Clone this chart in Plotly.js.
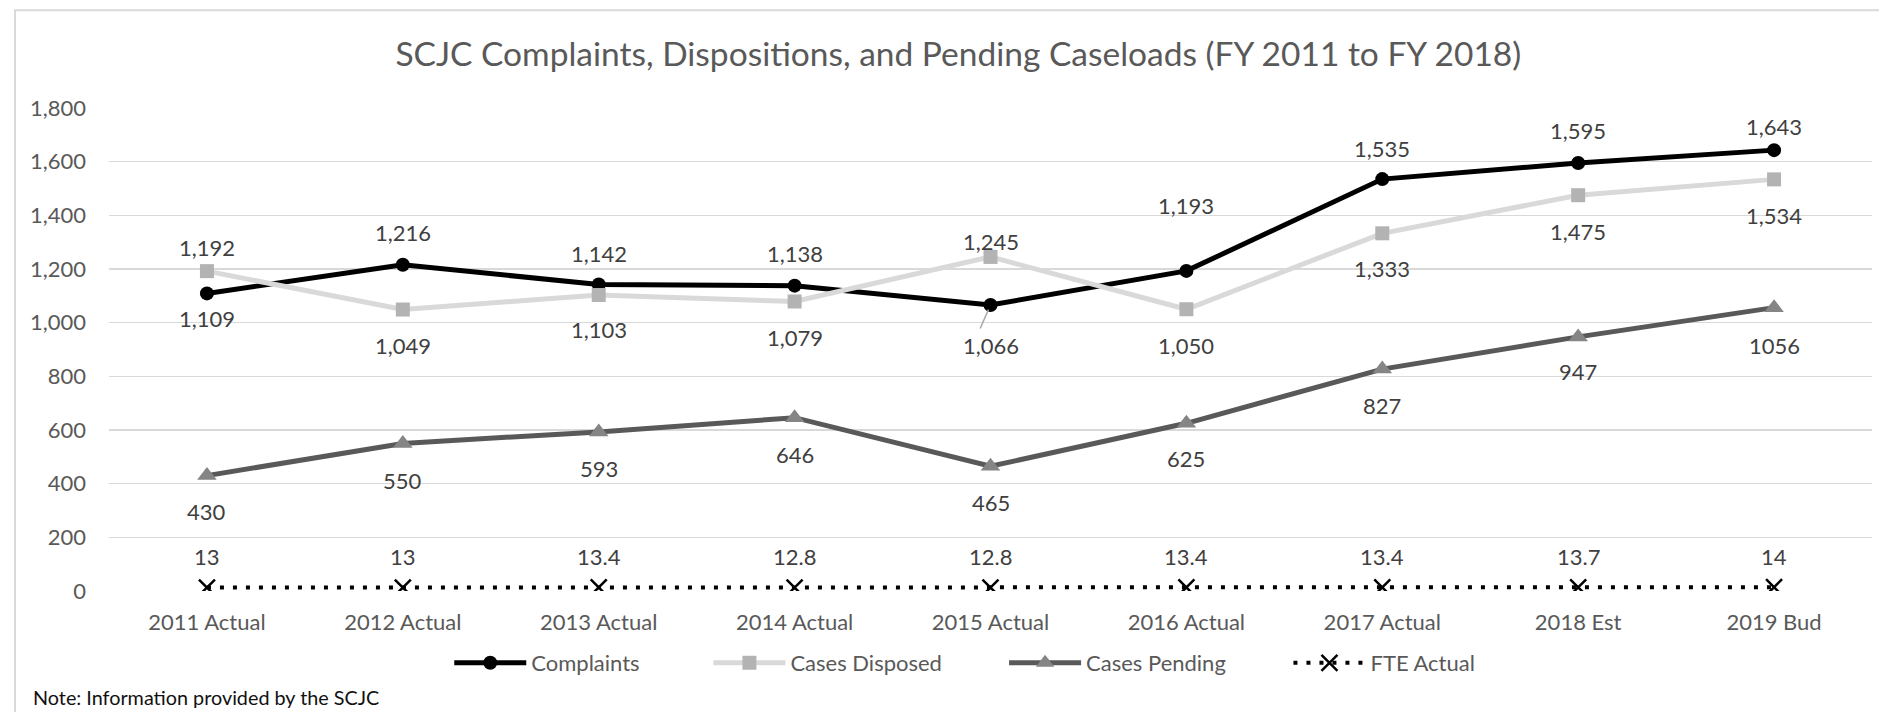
<!DOCTYPE html>
<html>
<head>
<meta charset="utf-8">
<script src="https://cdn.plot.ly/plotly-3.0.1.min.js"></script>
<style>
  html, body { margin: 0; padding: 0; background: #ffffff; }
  #chart { width: 1879px; height: 712px; }
</style>
</head>
<body>
<div id="chart"></div>
<script>
// ---- Data ----
const categories = ["2011 Actual", "2012 Actual", "2013 Actual", "2014 Actual", "2015 Actual", "2016 Actual", "2017 Actual", "2018 Est", "2019 Bud"];
const complaints = [1109, 1216, 1142, 1138, 1066, 1193, 1535, 1595, 1643];
const casesDisposed = [1192, 1049, 1103, 1079, 1245, 1050, 1333, 1475, 1534];
const casesPending = [430, 550, 593, 646, 465, 625, 827, 947, 1056];
const fteActual = [13, 13, 13.4, 12.8, 12.8, 13.4, 13.4, 13.7, 14];
const yTicks = [0, 200, 400, 600, 800, 1000, 1200, 1400, 1600, 1800];

// ---- Label placement (style: pixel shift of each data label from its point) ----
const complaintsShift = [-25, 32, 31, 32, -41, 65, 31, 33, 24];
const disposedShift = [24, -36, -34, -36, 15, -36, -35, -36, -36];
const pendingShift = [-36, -37, -37, -37, -36, -35, -36, -35, -38];
const fteShift = [31, 31, 31, 31, 31, 31, 31, 31, 31];

const FONT = "Lato, 'Open Sans', 'Noto Sans', sans-serif";
const fmtComma = v => v.toLocaleString('en-US');
const fmtPlain = v => String(v);

const traces = [
  {
    name: "Complaints", x: categories, y: complaints, type: "scatter", mode: "lines+markers",
    line: { color: "#000000", width: 5 },
    marker: { symbol: "circle", size: 14, color: "#000000" },
    hoverinfo: "skip", legend: "legend"
  },
  {
    name: "Cases Disposed", x: categories, y: casesDisposed, type: "scatter", mode: "lines+markers",
    line: { color: "#d9d9d9", width: 5 },
    marker: { symbol: "square", size: 14, color: "#b3b3b3" },
    hoverinfo: "skip", legend: "legend2"
  },
  {
    name: "Cases Pending", x: categories, y: casesPending, type: "scatter", mode: "lines+markers",
    line: { color: "#595959", width: 5 },
    marker: { symbol: "triangle-up", size: 17, color: "#858585" },
    hoverinfo: "skip", legend: "legend3"
  },
  {
    name: "FTE Actual", x: categories, y: fteActual, type: "scatter", mode: "lines+markers",
    line: { color: "#000000", width: 4, dash: "4px,9px" },
    marker: { symbol: "x-thin-open", size: 16, color: "#000000", line: { color: "#000000", width: 2.5 } },
    hoverinfo: "skip", legend: "legend4"
  }
];

const annotations = [];
function addLabels(vals, shifts, fmt) {
  vals.forEach((v, i) => {
    annotations.push({
      x: categories[i], y: v, xref: "x", yref: "y",
      text: fmt(v), showarrow: false, yshift: shifts[i],
      font: { family: FONT, size: 22, color: "#404040" }
    });
  });
}
addLabels(complaints, complaintsShift, fmtComma);
addLabels(casesDisposed, disposedShift, fmtComma);
addLabels(casesPending, pendingShift, fmtPlain);
addLabels(fteActual, fteShift, fmtPlain);

// leader line for the 2015 complaints label
annotations.push({
  x: categories[4], y: complaints[4], xref: "x", yref: "y",
  text: "", showarrow: true, arrowhead: 0, arrowwidth: 1.5, arrowcolor: "#a6a6a6",
  ax: -11, ay: 25, standoff: 5
});

// note
annotations.push({
  xref: "paper", yref: "paper", x: -0.044, y: -0.219, xanchor: "left", yanchor: "middle",
  text: "Note: Information provided by the SCJC", showarrow: false,
  font: { family: FONT, size: 19.8, color: "#111111" }
});

function legendAt(x) {
  return {
    orientation: "h", x: x, xanchor: "left", y: -0.149, yanchor: "middle",
    font: { family: FONT, size: 22, color: "#595959" },
    bgcolor: "rgba(0,0,0,0)", itemwidth: 72
  };
}

const layout = {
  width: 1879, height: 712,
  margin: { l: 109, r: 7, t: 108, b: 121 },
  paper_bgcolor: "#ffffff", plot_bgcolor: "#ffffff",
  font: { family: FONT, color: "#595959", size: 22 },
  title: {
    text: "SCJC Complaints, Dispositions, and Pending Caseloads (FY 2011 to FY 2018)",
    x: 0.51, xanchor: "center", xref: "container",
    y: 0.924, yanchor: "middle", yref: "container",
    font: { family: FONT, size: 33.5, color: "#595959" }
  },
  xaxis: {
    type: "category", range: [-0.5, 8.5],
    showgrid: false, zeroline: false, showline: false,
    ticks: "", ticklabelstandoff: 16,
    tickfont: { family: FONT, size: 22, color: "#595959" }
  },
  yaxis: {
    range: [0, 1800], tickvals: yTicks, tickformat: ",d",
    showgrid: true, gridcolor: "#d9d9d9", gridwidth: 1.5,
    zeroline: false, showline: false, ticks: "", ticklabelstandoff: 22,
    tickfont: { family: FONT, size: 22, color: "#595959" }
  },
  showlegend: true,
  legend: legendAt(0.1930),
  legend2: legendAt(0.3400),
  legend3: legendAt(0.5077),
  legend4: legendAt(0.6690),
  shapes: [
    { type: "rect", xref: "paper", yref: "paper",
      x0: -0.0533, x1: 1.02, y0: -0.28, y1: 1.2025,
      line: { color: "#d9d9d9", width: 2 }, fillcolor: "rgba(0,0,0,0)", layer: "below" }
  ],
  annotations: annotations,
  hovermode: false
};

Plotly.newPlot("chart", traces, layout, { displayModeBar: false, staticPlot: true });
</script>
</body>
</html>
